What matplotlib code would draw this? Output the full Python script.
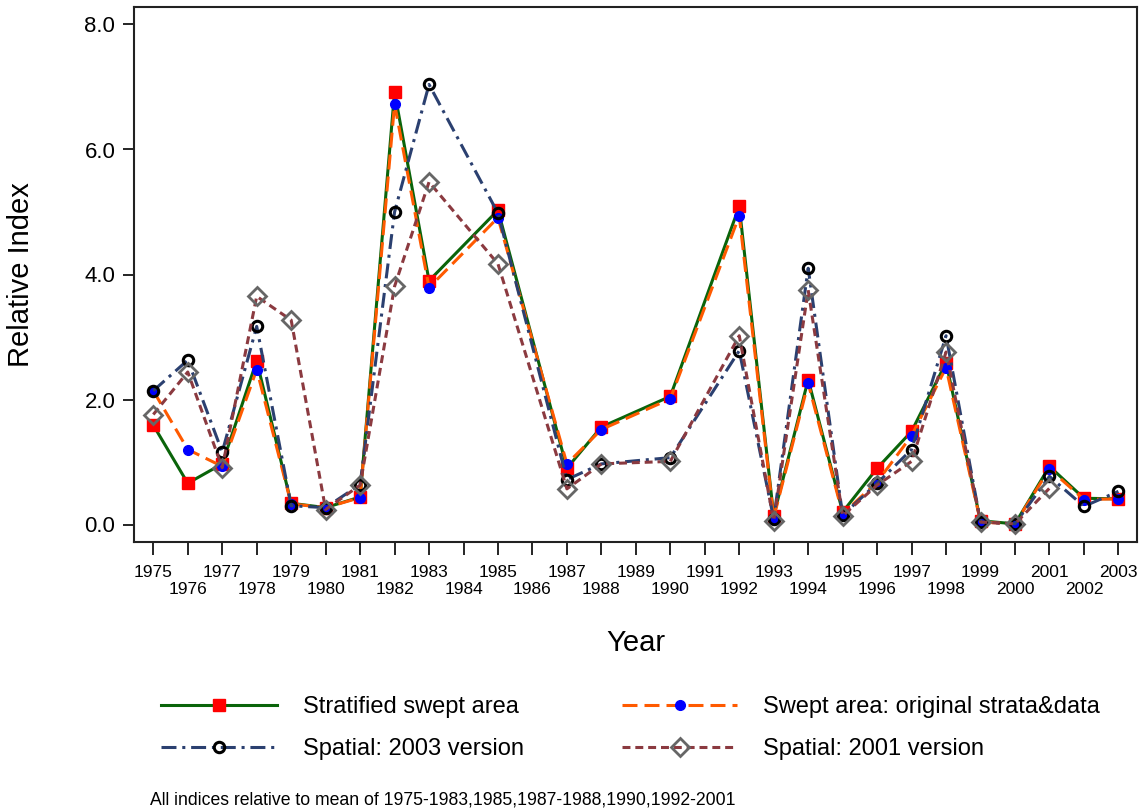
import numpy as np
import matplotlib
matplotlib.use('Agg')
import matplotlib.pyplot as plt

plt.rcParams['font.family'] = ['Liberation Sans', 'DejaVu Sans']

# ---------- data ----------
years = [1975, 1976, 1977, 1978, 1979, 1980, 1981, 1982, 1983, 1985, 1987, 1988, 1990,
         1992, 1993, 1994, 1995, 1996, 1997, 1998, 1999, 2000, 2001, 2002, 2003]
years_2001 = years[:-2]      # 2001 spatial run stops at 2001

strat_swept = [1.59, 0.66, 0.97, 2.62, 0.34, 0.27, 0.44, 6.92, 3.90, 5.03, 0.90, 1.56, 2.05,
               5.09, 0.14, 2.32, 0.20, 0.90, 1.49, 2.59, 0.06, 0.01, 0.93, 0.42, 0.41]
swept_orig = [2.14, 1.20, 0.93, 2.48, 0.33, 0.27, 0.43, 6.73, 3.79, 4.91, 0.97, 1.52, 2.01,
              4.94, 0.11, 2.26, 0.17, 0.68, 1.42, 2.51, 0.04, 0.01, 0.89, 0.40, 0.41]
spatial_2003 = [2.14, 2.63, 1.16, 3.17, 0.30, 0.27, 0.64, 5.00, 7.04, 4.98, 0.72, 0.97, 1.07,
                2.78, 0.09, 4.10, 0.15, 0.66, 1.20, 3.02, 0.04, 0.01, 0.77, 0.29, 0.53]
spatial_2001 = [1.76, 2.44, 0.91, 3.65, 3.27, 0.24, 0.63, 3.81, 5.48, 4.17, 0.57, 0.97, 1.01,
                3.02, 0.06, 3.75, 0.14, 0.63, 1.01, 2.76, 0.04, 0.01, 0.58]

labels = ['Stratified swept area', 'Swept area: original strata&data',
          'Spatial: 2003 version', 'Spatial: 2001 version']

# ---------- plot ----------
fig = plt.figure(figsize=(11.45, 8.09), dpi=100)
ax = fig.add_axes([134/1145, 1 - 542/809, 1003/1145, 535/809])

lw = 2.2
h1, = ax.plot(years, strat_swept, color='#0a640a', lw=lw, ls='-',
              marker='s', ms=8.5, mfc='#ff0000', mec='#ff0000', label=labels[0])
h2, = ax.plot(years, swept_orig, color='#ff5a00', lw=lw, ls=(0, (4.9, 2.3)),
              marker='o', ms=7, mfc='#0000ff', mec='#0000ff', label=labels[1])
h3, = ax.plot(years, spatial_2003, color='#2b4070', lw=lw, ls=(0, (4.9, 1.9, 1, 1.9)),
              marker='o', ms=7.5, mfc='none', mec='black', mew=2.2, label=labels[2])
h4, = ax.plot(years_2001, spatial_2001, color='#8b3a40', lw=lw, ls=(0, (2.6, 1.6)),
              marker='D', ms=9, mfc='none', mec='#666666', mew=2.0, label=labels[3])

ax.set_xlim(1974.44, 2003.54)
ax.set_ylim(-0.28, 8.28)

ax.set_yticks([0, 2, 4, 6, 8])
ax.set_yticklabels(['0.0', '2.0', '4.0', '6.0', '8.0'])

# odd years on the upper row, even years staggered below
ax.set_xticks(list(range(1975, 2004, 2)))
ax.set_xticks(list(range(1976, 2004, 2)), minor=True)
ax.set_xticklabels([str(y) for y in range(1975, 2004, 2)])
ax.set_xticklabels([str(y) for y in range(1976, 2004, 2)], minor=True)

ax.tick_params(axis='y', length=8, width=1.2, pad=5.5, labelsize=16)
ax.tick_params(axis='x', which='major', length=9, width=1.2, pad=7.5, labelsize=12.5)
ax.tick_params(axis='x', which='minor', length=9, width=1.2, pad=20, labelsize=12.5)

for s in ax.spines.values():
    s.set_linewidth(1.5)
    s.set_color('#222222')

ax.set_xlabel('Year', fontsize=21)
ax.xaxis.set_label_coords(0.5, (542 - 643) / 535)
ax.xaxis.label.set_verticalalignment('center')
ax.set_ylabel('Relative Index', fontsize=21)
ax.yaxis.set_label_coords((21 - 134) / 1003, 0.5)
ax.yaxis.label.set_verticalalignment('center')

# legend filled row by row: column-major order of handles
fig.legend(handles=[h1, h3, h2, h4], ncol=2, frameon=False, fontsize=17,
           loc='center left', bbox_to_anchor=(161/1145, 1 - 728/809),
           borderpad=0, borderaxespad=0, handlelength=4.9, handletextpad=1.1,
           columnspacing=4.15, labelspacing=0.85, numpoints=1)

fig.text(150/1145, 1 - 800/809,
         'All indices relative to mean of 1975-1983,1985,1987-1988,1990,1992-2001',
         fontsize=12.7, va='center', ha='left')

fig.savefig('out.png', dpi=100)
